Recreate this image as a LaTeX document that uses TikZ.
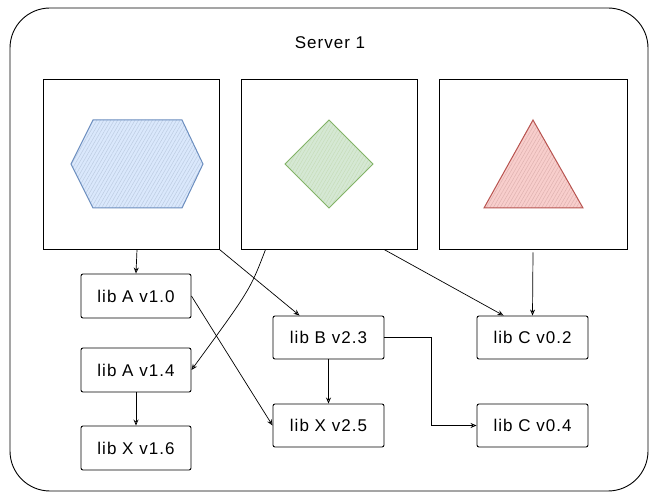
\documentclass[tikz,border=0pt]{standalone}
\usepackage{fontspec}
\setmainfont{Liberation Sans}[LetterSpace=6]
\usetikzlibrary{arrows.meta,patterns.meta,calc}
\definecolor{hexline}{HTML}{6C8EBF}
\definecolor{hexfill}{HTML}{DAE8FC}
\definecolor{dialine}{HTML}{82B366}
\definecolor{diafill}{HTML}{D5E8D4}
\definecolor{triline}{HTML}{B85450}
\definecolor{trifill}{HTML}{F8CECC}
\tikzset{
  libbox/.style={draw=black, line width=0.9pt, rounded corners=2pt, minimum width=110pt, minimum height=44pt, inner sep=0pt, font=\fontsize{17}{19}\selectfont},
  svcbox/.style={draw=black, line width=0.9pt, inner sep=0pt},
  dep/.style={draw=black, line width=0.7pt, -{Stealth[open,length=6pt,width=5pt]}},
  hatch/.style={pattern={Lines[angle=60,distance=3pt,line width=0.5pt]}, pattern color=#1}
}
\begin{document}
\begin{tikzpicture}[x=1pt,y=-1pt]
\useasboundingbox (0,0) rectangle (649,492);
% server outline
\draw[line width=0.9pt, rounded corners=40pt] (10,8) rectangle (648,491);
\node[font=\fontsize{17}{19}\selectfont] (title) at (330,43) {Server 1};
% service containers
\node[svcbox, minimum width=176pt, minimum height=170pt] (s1) at (131,164) {};
\node[svcbox, minimum width=176pt, minimum height=170pt] (s2) at (329,164) {};
\node[svcbox, minimum width=188pt, minimum height=170pt] (s3) at (533,164) {};
% service icons
\fill[hexfill] (93,120) -- (182,120) -- (203,164) -- (182,208) -- (93,208) -- (71,164) -- cycle;
\fill[hatch=hexline!45] (93,120) -- (182,120) -- (203,164) -- (182,208) -- (93,208) -- (71,164) -- cycle;
\draw[hexline, line width=1pt] (93,120) -- (182,120) -- (203,164) -- (182,208) -- (93,208) -- (71,164) -- cycle;
\fill[diafill] (329,120) -- (373,164) -- (329,208) -- (285,164) -- cycle;
\fill[hatch=dialine!45] (329,120) -- (373,164) -- (329,208) -- (285,164) -- cycle;
\draw[dialine, line width=1pt] (329,120) -- (373,164) -- (329,208) -- (285,164) -- cycle;
\fill[trifill] (533,120) -- (583,208) -- (484,208) -- cycle;
\fill[hatch=triline!45] (533,120) -- (583,208) -- (484,208) -- cycle;
\draw[triline, line width=1pt] (533,120) -- (583,208) -- (484,208) -- cycle;
% libraries
\node[libbox] (a10) at (136,296) {lib A v1.0};
\node[libbox] (a14) at (136,370) {lib A v1.4};
\node[libbox] (x16) at (136,448) {lib X v1.6};
\node[libbox, minimum width=111pt, minimum height=43pt] (b23) at (328.5,337.5) {lib B v2.3};
\node[libbox, minimum width=111pt, minimum height=43pt] (x25) at (328.5,425.5) {lib X v2.5};
\node[libbox, minimum width=111pt, minimum height=43pt] (c02) at (532.5,337.5) {lib C v0.2};
\node[libbox, minimum width=111pt, minimum height=43pt] (c04) at (532.5,425.5) {lib C v0.4};
% dependencies
\draw[dep] ($(s1.south)+(6,0)$) -- (a10.north);
\draw[dep] (s1.south east) -- ($(b23.north west)+(27,0)$);
\draw[dep] ($(s2.south west)+(25,0)$) .. controls (250,290) .. (a14.east);
\draw[dep] ($(s2.south)+(55,0)$) -- ($(c02.north west)+(27,0)$);
\draw[dep] ($(s3.south)+(0,3)$) -- (c02.north);
\draw[dep] (a10.east) -- (x25.west);
\draw[dep] (a14.south) -- (x16.north);
\draw[dep] (b23.south) -- (x25.north);
\draw[dep] (b23.east) -- (431,337.5) -- (431,425.5) -- (c04.west);
\end{tikzpicture}
\end{document}
